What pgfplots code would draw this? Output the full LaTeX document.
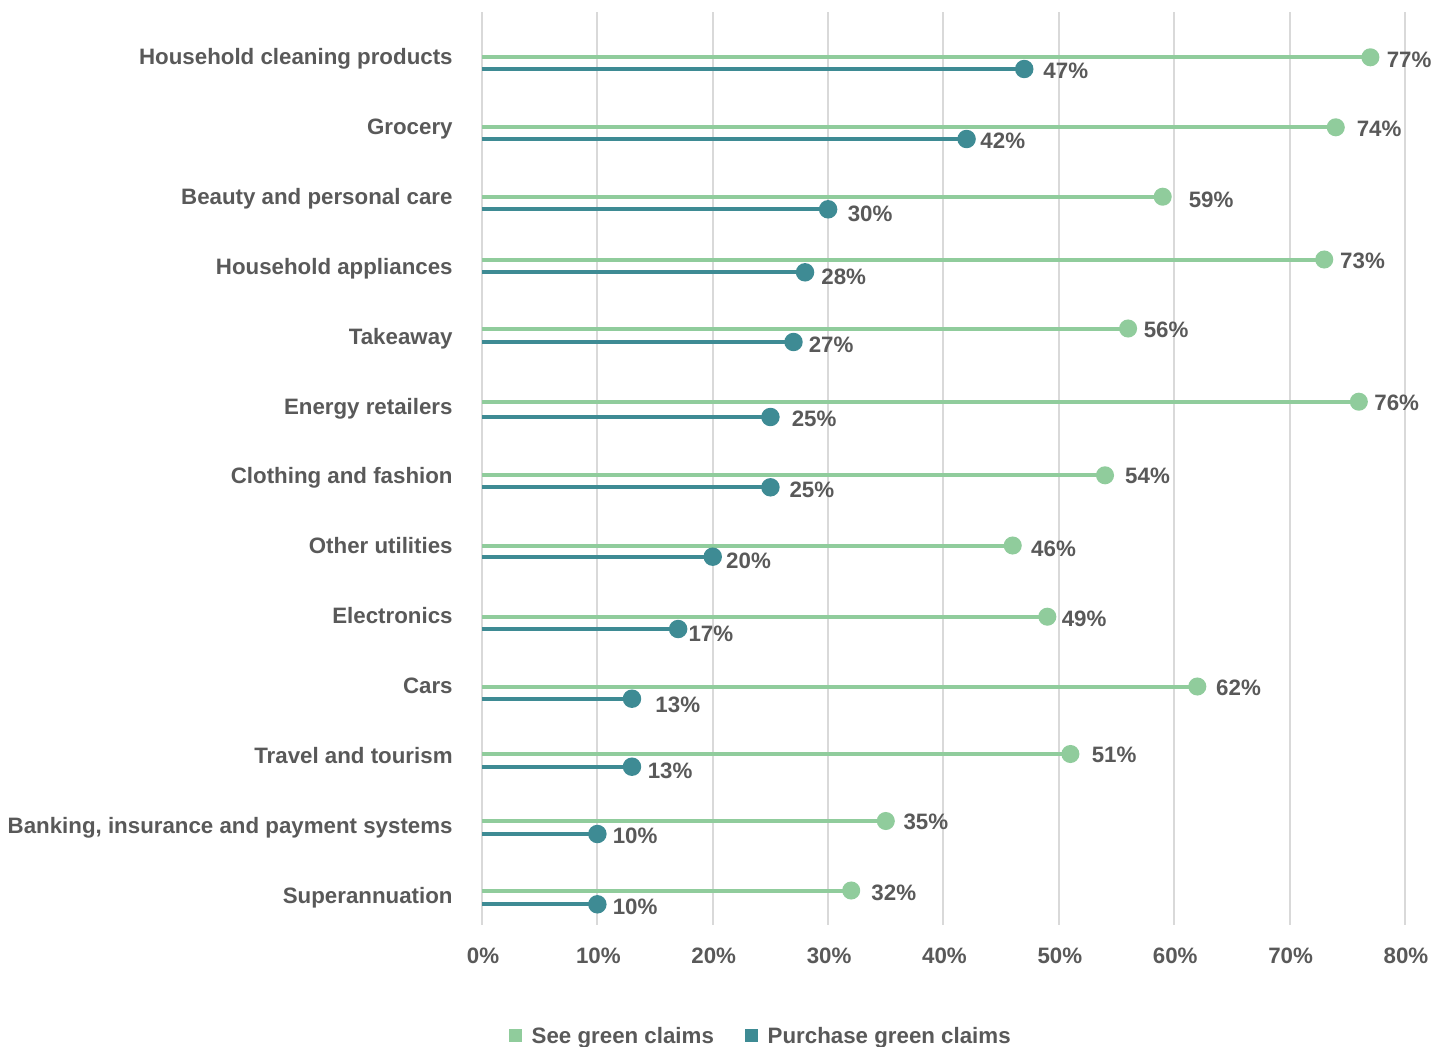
\documentclass[border=0pt]{standalone}
\usepackage{pgfplots}
\pgfplotsset{compat=1.18}
\usepackage{pgfplotstable}
\usepackage{fontspec}
\setmainfont{Liberation Sans}
\definecolor{seeG}{HTML}{90CC9C}
\definecolor{purT}{HTML}{3E8B94}
\definecolor{txt}{HTML}{595959}
\definecolor{gridc}{HTML}{D9D9D9}
\newcommand{\lbl}{\fontsize{11.15}{13}\selectfont\bfseries}

% value, y position (px from top), label x offset (px), label y offset (px)
\pgfplotstableread{
v  y     dx   dy
77 57.3  16.9 2
74 127.3 21.5 1.7
59 196.7 26.6 2.6
73 259.5 16.5 1.4
56 328.5 16.2 0.7
76 401.7 16.1 1
54 475.3 20.7 0.7
46 545.5 19   3.3
49 616.7 15   1.6
62 686.5 19.4 1
51 754   21.9 0.3
35 821   18.2 0.7
32 890.5 20.8 2
}\seetab

\pgfplotstableread{
v  y     dx   dy
47 69    19.7 2
42 139   14.4 2
30 209.3 20.2 4
28 272.3 16.9 4.4
27 342   15.8 2.3
25 417   21.9 2
25 487.3 19.6 2.7
20 556.7 14   4
17 629   10.9 5
13 698.7 24   6.3
13 766.7 16.3 4
10 834   15.9 2
10 904.3 15.9 2.4
}\purtab

\begin{document}
\begin{tikzpicture}
\useasboundingbox (0,0) rectangle (724pt,523pt);
\begin{axis}[
  at={(241pt,60.5pt)}, anchor=south west,
  width=461.5pt, height=456.5pt, scale only axis,
  xmin=0, xmax=80, ymin=12, ymax=925, y dir=reverse,
  xtick={0,10,...,80},
  xticklabel={\pgfmathprintnumber{\tick}\%},
  ytick={57,127,197,267,337,407,476,546,616,686,756,826,896},
  yticklabels={Household cleaning products, Grocery, Beauty and personal care, Household appliances, Takeaway, Energy retailers, Clothing and fashion, Other utilities, Electronics, Cars, Travel and tourism, {Banking, insurance and payment systems}, Superannuation},
  xmajorgrids, major grid style={gridc, line width=1pt},
  axis line style={draw=none},
  major tick length=0pt,
  tick label style={font=\lbl, text=txt, inner sep=0pt},
  yticklabel style={anchor=east, xshift=-14.5pt, text height=7.98pt, text depth=0pt},
  xticklabel style={anchor=north, xshift=0.5pt, yshift=-11pt, text height=7.98pt, text depth=0pt},
  /pgf/number format/assume math mode=true,
  clip=false,
  legend columns=2,
  legend style={at={(0.301,-0.1205)}, anchor=center, draw=none, fill=none,
    font=\lbl, text=txt, inner sep=0pt,
    nodes={inner sep=0pt, text height=7.98pt, text depth=0pt},
    /tikz/every odd column/.append style={column sep=5pt},
    /tikz/every even column/.append style={column sep=15.5pt}},
]
\addplot[xcomb, seeG, line width=2pt, mark=*, mark size=3.5pt,
  mark options={draw=none, fill=seeG}, forget plot,
  point meta=x,
  nodes near coords={\pgfmathprintnumber{\pgfplotspointmeta}\%},
  visualization depends on={\thisrow{dx} \as \dx},
  visualization depends on={\thisrow{dy} \as \dy},
  nodes near coords style={anchor=west, inner sep=0pt, font=\lbl, text=txt,
    text height=7.98pt, text depth=0pt, xshift={0.5pt*\dx-1.25pt}, yshift={-0.5pt*\dy}},
] table[x=v, y=y] {\seetab};
\addplot[xcomb, purT, line width=2pt, mark=*, mark size=3.6pt,
  mark options={draw=none, fill=purT}, forget plot,
  point meta=x,
  nodes near coords={\pgfmathprintnumber{\pgfplotspointmeta}\%},
  visualization depends on={\thisrow{dx} \as \dx},
  visualization depends on={\thisrow{dy} \as \dy},
  nodes near coords style={anchor=west, inner sep=0pt, font=\lbl, text=txt,
    text height=7.98pt, text depth=0pt, xshift={0.5pt*\dx-1.25pt}, yshift={-0.5pt*\dy}},
] table[x=v, y=y] {\purtab};
\addlegendimage{legend image code/.code={\fill[seeG] (0pt,-3pt) rectangle (6pt,3pt);}}
\addlegendentry{See green claims}
\addlegendimage{legend image code/.code={\fill[purT] (0pt,-3pt) rectangle (6pt,3pt);}}
\addlegendentry{Purchase green claims}
\end{axis}
\end{tikzpicture}
\end{document}
